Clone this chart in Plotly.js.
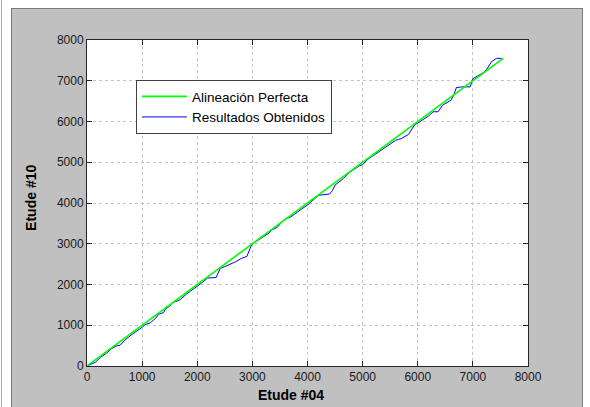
<!DOCTYPE html>
<html>
<head>
<meta charset="utf-8">
<script src="https://cdn.plot.ly/plotly-3.0.1.min.js"></script>
<style>
  html, body { margin: 0; padding: 0; background: #ffffff; width: 590px; height: 407px; overflow: hidden; }
  #frame { position: absolute; left: 11px; top: 8px; width: 570px; height: 399px;
           border-left: 1px solid #7a7a7a; border-top: 1px solid #7a7a7a; border-right: 1px solid #7a7a7a;
           background: #c0c0c0; }
  #edge { position: absolute; left: 1px; top: 0; width: 1px; height: 407px; background: #a8a8a8; }
  #chart { position: absolute; left: 0; top: 0; width: 570px; height: 399px; }
</style>
</head>
<body>
<div id="edge"></div>
<div id="frame"><div id="chart"></div></div>
<script>
// Data
const perfectX = [0, 7550];
const perfectY = [0, 7550];

const resultX = [0, 80, 150, 250, 350, 450, 550, 600, 700, 800, 900, 1000, 1050, 1100, 1150, 1250, 1300, 1390, 1420, 1500, 1550, 1650, 1700, 1800, 1900, 2000, 2100, 2190, 2340, 2420, 2500, 2600, 2700, 2800, 2900, 2990, 3100, 3200, 3300, 3350, 3450, 3550, 3620, 3700, 3800, 3900, 4000, 4100, 4200, 4400, 4450, 4500, 4650, 4750, 4850, 4950, 5000, 5100, 5200, 5300, 5400, 5500, 5600, 5650, 5700, 5830, 5950, 6000, 6100, 6200, 6280, 6370, 6450, 6500, 6600, 6650, 6700, 6800, 6900, 6950, 7000, 7100, 7190, 7250, 7340, 7430, 7520];
const resultY = [0, 40, 90, 220, 310, 430, 500, 510, 650, 760, 850, 950, 1010, 1030, 1060, 1180, 1270, 1310, 1390, 1470, 1560, 1600, 1640, 1760, 1850, 1960, 2060, 2160, 2170, 2400, 2440, 2500, 2560, 2640, 2690, 2990, 3080, 3170, 3260, 3340, 3400, 3560, 3620, 3660, 3770, 3860, 3950, 4060, 4190, 4220, 4300, 4440, 4600, 4740, 4840, 4920, 4940, 5080, 5170, 5260, 5340, 5440, 5540, 5560, 5580, 5680, 5930, 5960, 6040, 6140, 6240, 6240, 6400, 6440, 6520, 6640, 6830, 6850, 6840, 6850, 7050, 7130, 7200, 7280, 7470, 7550, 7550];

const tickVals = [0, 1000, 2000, 3000, 4000, 5000, 6000, 7000, 8000];
const tickText = ['0', '1000', '2000', '3000', '4000', '5000', '6000', '7000', '8000'];
const xTitle = 'Etude #04';
const yTitle = 'Etude #10';

const traces = [
  { x: resultX, y: resultY, type: 'scatter', mode: 'lines', name: 'Resultados Obtenidos',
    line: { color: '#0000ff', width: 1 } },
  { x: perfectX, y: perfectY, type: 'scatter', mode: 'lines', name: 'Alineación Perfecta',
    line: { color: '#00ff00', width: 1.6 } }
];

const font = 'Arial, Liberation Sans, sans-serif';
const axisCommon = {
  range: [0, 8000], tickmode: 'array', tickvals: tickVals, ticktext: tickText,
  ticks: 'inside', ticklen: 5, tickwidth: 1, tickcolor: '#262626',
  showline: true, linecolor: '#262626', linewidth: 1, mirror: 'ticks',
  showgrid: true, gridcolor: '#c4c4c4', griddash: 'dot', gridwidth: 1,
  zeroline: false, fixedrange: true,
  tickfont: { family: font, size: 12, color: '#1a1a1a' }
};

const layout = {
  width: 570, height: 399,
  margin: { l: 75, r: 54, t: 31, b: 42, pad: 0 },
  paper_bgcolor: '#c0c0c0', plot_bgcolor: '#ffffff',
  showlegend: true,
  legend: { x: 0.111, y: 0.877, xanchor: 'left', yanchor: 'top', traceorder: 'reversed',
            itemwidth: 45, tracegroupgap: 0,
            bgcolor: '#ffffff', bordercolor: '#404040', borderwidth: 1,
            font: { family: font, size: 13.5, color: '#000000' } },
  xaxis: Object.assign({}, axisCommon),
  yaxis: Object.assign({}, axisCommon),
  annotations: [
    { text: xTitle, xref: 'paper', yref: 'paper', x: 0.4626, y: -0.088, xanchor: 'center', yanchor: 'middle',
      showarrow: false, font: { family: font, size: 14, color: '#000000', weight: 'bold' } },
    { text: yTitle, xref: 'paper', yref: 'paper', x: -0.1275, y: 0.515, xanchor: 'center', yanchor: 'middle',
      textangle: -90, showarrow: false, font: { family: font, size: 14, color: '#000000', weight: 'bold' } }
  ]
};

Plotly.newPlot('chart', traces, layout, { staticPlot: true, displayModeBar: false });
</script>
</body>
</html>
